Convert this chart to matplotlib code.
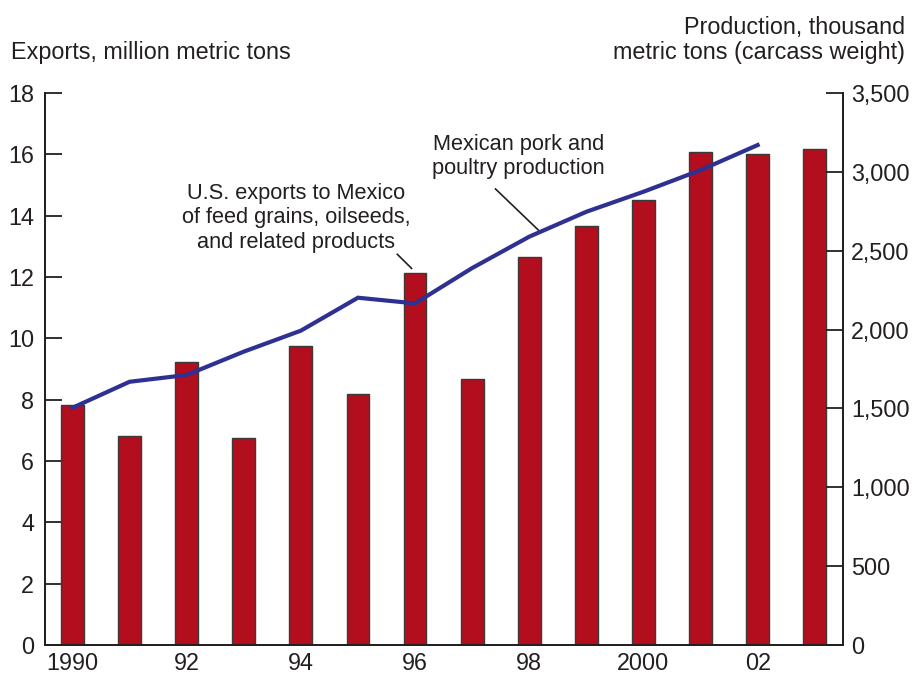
import matplotlib
matplotlib.use("Agg")
import matplotlib.pyplot as plt
import numpy as np

plt.rcParams["font.family"] = ["Liberation Sans", "DejaVu Sans"]

years = list(range(1990, 2004))
exports = [7.82, 6.81, 9.24, 6.74, 9.75, 8.17, 12.14, 8.67, 12.66, 13.66, 14.51, 16.09, 16.0, 16.19]
prod_years = list(range(1990, 2003))
production = [1504, 1669, 1712, 1860, 1993, 2202, 2166, 2390, 2589, 2747, 2874, 3011, 3170]
tick_years = [1990, 1992, 1994, 1996, 1998, 2000, 2002]
tick_labels = ["1990", "92", "94", "96", "98", "2000", "02"]

BAR = "#B20E1E"
LINE = "#2E3192"
INK = "#231F20"
FS = 16.8
FS_NOTE = 15.7

fig = plt.figure(figsize=(9.19, 6.77), dpi=100)
ax = fig.add_axes([0.049, 0.0473, 0.868, 0.8153])
ax2 = ax.twinx()

x = np.arange(len(years))
ax.bar(x, exports, width=0.4, color=BAR, edgecolor="#3a3a3a", linewidth=1.0, zorder=2)
ax.set_xlim(-0.48, len(years) - 0.51)
ax.set_ylim(0, 18)
ax.set_yticks(range(0, 19, 2))
ax.set_xticks([years.index(y) for y in tick_years])
ax.set_xticklabels(tick_labels)

ax2.plot([years.index(y) for y in prod_years], production, color=LINE, lw=3.0,
         solid_joinstyle="miter", zorder=3)
ax2.set_ylim(0, 3500)
ax2.set_yticks(range(0, 3501, 500))
ax2.set_yticklabels([f"{v:,}" for v in range(0, 3501, 500)])

for a in (ax, ax2):
    a.spines["top"].set_visible(False)
    for s in ("left", "right", "bottom"):
        a.spines[s].set_color(INK)
        a.spines[s].set_linewidth(1.3)
ax.tick_params(axis="y", direction="in", length=12, width=1.3, color=INK,
               labelsize=FS, labelcolor=INK, pad=8)
ax.tick_params(axis="x", length=0, labelsize=FS, labelcolor=INK, pad=5)
ax2.tick_params(axis="y", direction="in", length=12, width=1.3, color=INK,
                labelsize=FS, labelcolor=INK, pad=6)

fig.text(11 / 919, 1 - 53 / 677, "Exports, million metric tons", fontsize=FS,
         color=INK, ha="left", va="center")
fig.text(905 / 919, 1 - 40 / 677, "Production, thousand\nmetric tons (carcass weight)",
         fontsize=FS, color=INK, ha="right", va="center", linespacing=1.12)

# labels and leader lines
ax.text(3.92, 13.93, "U.S. exports to Mexico\nof feed grains, oilseeds,\nand related products",
        ha="center", va="center", fontsize=FS_NOTE, color=INK, linespacing=1.2, zorder=5)
ax.plot([5.69, 5.94], [12.74, 12.28], color=INK, lw=1.2, zorder=5)
ax.text(7.81, 15.92, "Mexican pork and\npoultry production",
        ha="center", va="center", fontsize=FS_NOTE, color=INK, linespacing=1.2, zorder=5)
ax.plot([7.41, 8.16], [14.87, 13.53], color=INK, lw=1.2, zorder=5)

fig.savefig("out.png", dpi=100)
